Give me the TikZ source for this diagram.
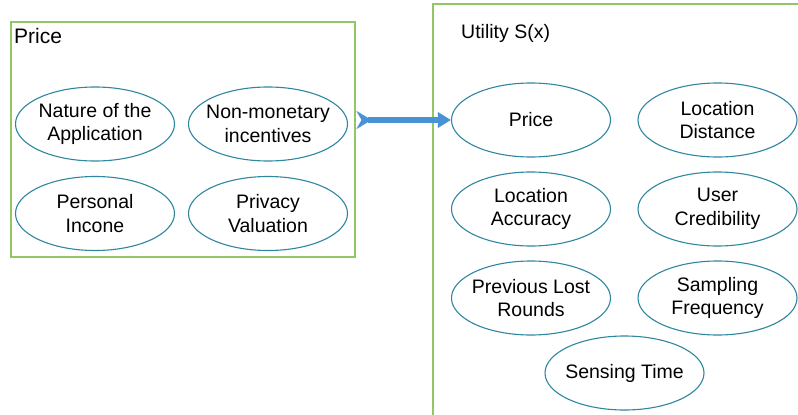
\documentclass[tikz,border=0pt]{standalone}
\usepackage{fontspec}
\setmainfont{Liberation Sans}
\usetikzlibrary{arrows.meta,shapes.geometric}
\definecolor{boxgreen}{RGB}{146,199,102}
\definecolor{ovalteal}{RGB}{46,134,160}
\definecolor{arrowblue}{RGB}{74,146,214}
\tikzset{
  factor/.style={ellipse, draw=ovalteal, line width=1.1pt, fill=white,
    minimum width=159pt, minimum height=74pt, inner xsep=-14pt, inner ysep=-8pt,
    align=center, font=\fontsize{19.5}{23.5}\selectfont},
  groupbox/.style={draw=boxgreen, line width=1.5pt},
  grouptitle/.style={anchor=west, inner sep=0pt, font=\fontsize{19.5}{23.5}\selectfont},
  bigarrow/.style={draw=arrowblue, line width=6pt,
    {Stealth[reversed,length=15pt,width=18pt,inset=5pt]}-{Triangle[length=13pt,width=15pt]}}
}
\begin{document}
\begin{tikzpicture}[x=1pt,y=-1pt]
  \useasboundingbox (0,0) rectangle (798,415);
  % left group: what shapes the price
  \node[groupbox, minimum width=344pt, minimum height=235pt, inner sep=0pt, anchor=north west] (pricebox) at (10,21) {};
  \node[grouptitle, font=\fontsize{21}{25}\selectfont] (pricetitle) at (14,36) {Price};
  \node[factor] (nature) at (95,124) {Nature of the\\Application};
  \node[factor] (nonmon) at (268,124) {Non-monetary\\incentives};
  \node[factor] (income) at (95,213.5) {Personal\\Incone};
  \node[factor] (privacy) at (268,213.5) {Privacy\\Valuation};
  % right group: utility terms, box runs off the page edge
  \begin{scope}
    \clip (0,0) rectangle (798,415);
    \draw[groupbox] (433,4) rectangle (820,440);
  \end{scope}
  \node[grouptitle] (utiltitle) at (461,33) {Utility S(x)};
  \node[factor] (pr) at (531,120) {Price};
  \node[factor] (dist) at (717.5,120) {Location\\Distance};
  \node[factor] (acc) at (531,209) {Location\\Accuracy};
  \node[factor] (cred) at (717.5,209) {User\\Credibility};
  \node[factor] (lost) at (531,298) {Previous Lost\\Rounds};
  \node[factor] (freq) at (717.5,298) {Sampling\\Frequency};
  \node[factor] (stime) at (624.5,373) {Sensing Time};
  % connector from the price group to the price term
  \coordinate (tail) at ([xshift=1pt]pricebox.east |- pr.west);
  \draw[bigarrow] (tail) -- (pr.west);
\end{tikzpicture}
\end{document}
